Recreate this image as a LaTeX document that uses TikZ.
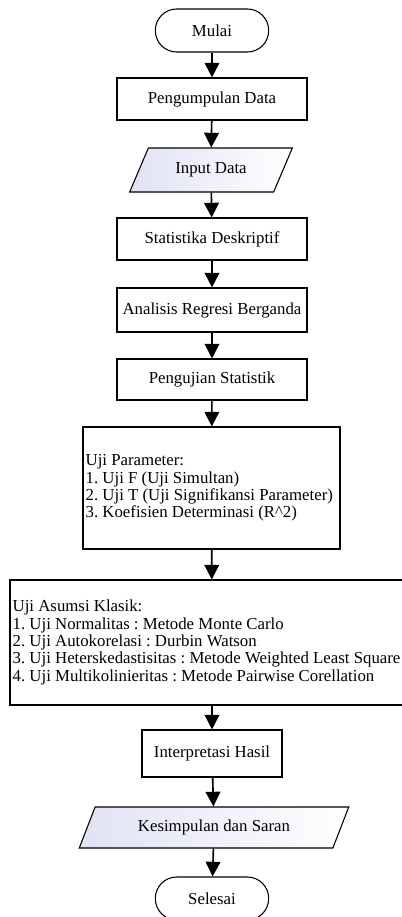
\documentclass[tikz,border=0pt]{standalone}
\usepackage{fontspec}
\setmainfont{Liberation Serif}
\usetikzlibrary{shapes.geometric,arrows.meta}
\definecolor{iofill}{RGB}{224,226,244}
\frenchspacing

\begin{document}
\begin{tikzpicture}[x=0.75pt, y=-0.75pt,
    font=\fontsize{12.6}{13}\selectfont,
    terminal/.style={draw, line width=0.8pt, rounded corners=16pt, minimum width=85pt, minimum height=32.25pt},
    process/.style={draw, line width=0.8pt, minimum width=142.5pt, minimum height=31.5pt},
    iobox/.style={draw, line width=0.8pt, trapezium, trapezium stretches=true, left color=iofill, right color=white},
    listbox/.style={draw, line width=0.8pt, align=flush left, inner xsep=2pt},
    flow/.style={line width=1.25pt, -{Triangle[width=11pt,length=11pt]}}]
        \clip (0,0) rectangle (402,917);
        \node[terminal] (mulai) at (212,30.5) {Mulai};
        \node[process] (kumpul) at (212,99) {Pengumpulan Data};
        \node[iobox, trapezium left angle=63, trapezium right angle=117, minimum width=123pt, minimum height=33pt] (input) at (211,170) {Input Data};
        \node[process] (stat) at (212,239) {Statistika Deskriptif};
        \node[process, minimum height=33pt] (regresi) at (212,310) {Analisis Regresi Berganda};
        \node[process, minimum height=30.75pt] (uji) at (212,379.5) {Pengujian Statistik};
        \node[listbox, text width=188.75pt, minimum height=91.5pt] (param) at (211.5,488) {Uji Parameter:\\1. Uji F (Uji Simultan)\\2. Uji T (Uji Signifikansi Parameter)\\3. Koefisien Determinasi (R\textasciicircum 2)};
        \node[listbox, text width=299pt, minimum height=93.75pt] (asumsi) at (212,642.5) {Uji Asumsi Klasik:\\1. Uji Normalitas : Metode Monte Carlo\\2. Uji Autokorelasi : Durbin Watson\\3. Uji Heterskedastisitas : Metode Weighted Least Square\\4. Uji Multikolinieritas : Metode Pairwise Corellation};
        \node[process, minimum width=105pt, minimum height=35.25pt] (interp) at (212,753.5) {Interpretasi Hasil};
        \node[iobox, trapezium left angle=66, trapezium right angle=114, minimum width=202.5pt, minimum height=30.75pt] (simpul) at (214,827.5) {Kesimpulan dan Saran};
        \node[terminal] (selesai) at (212,898.5) {Selesai};
        \draw[flow] (mulai) -- (kumpul);
        \draw[flow] (kumpul) -- (input);
        \draw[flow] (input) -- (stat);
        \draw[flow] (stat) -- (regresi);
        \draw[flow] (regresi) -- (uji);
        \draw[flow] (uji) -- (param);
        \draw[flow] (param) -- (asumsi);
        \draw[flow] (asumsi) -- (interp);
        \draw[flow] (interp) -- (simpul);
        \draw[flow] (simpul) -- (selesai);
    \end{tikzpicture}
\end{document}
